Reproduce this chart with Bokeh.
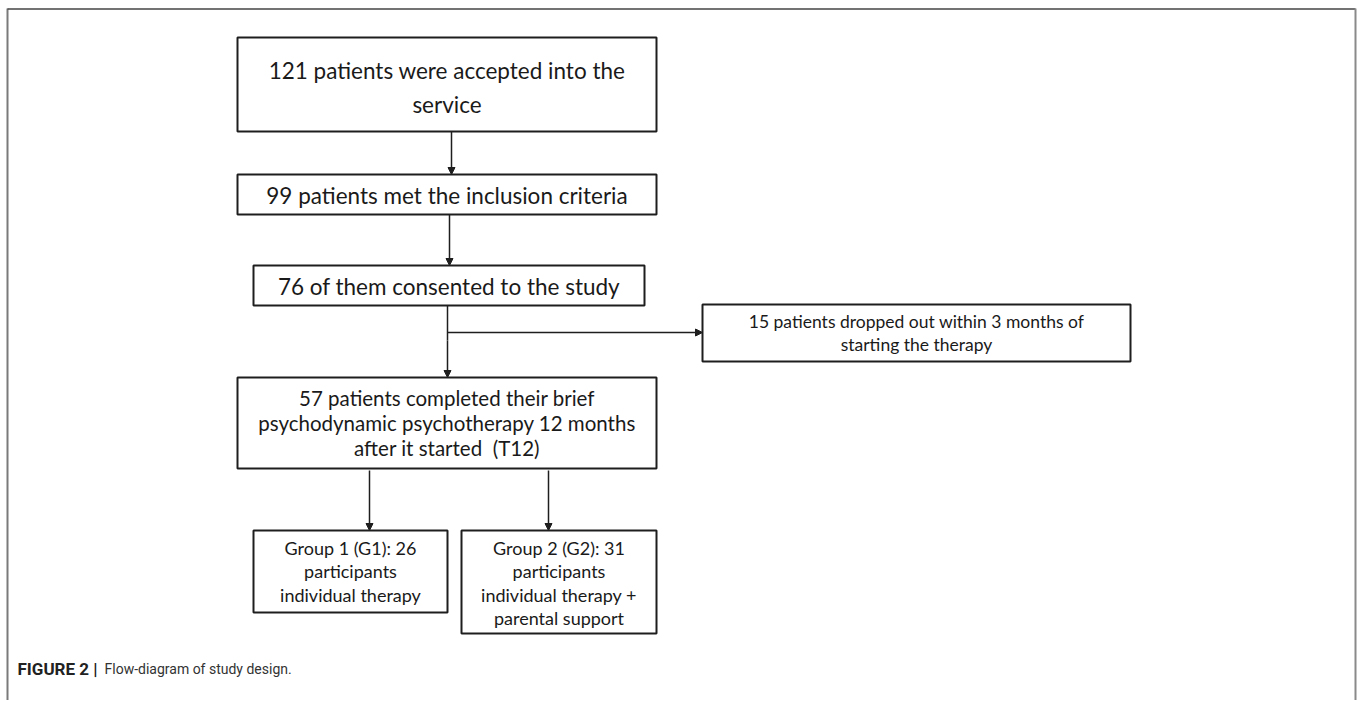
from bokeh.plotting import figure
from bokeh.models import Range1d, Arrow, NormalHead
from bokeh.core.properties import value
from bokeh.embed import file_html
from bokeh.resources import INLINE

# ---- data ----
accepted = 121
eligible = 99
consented = 76
dropped = 15
completed = 57
group1 = 26
group2 = 31

box_lines = [
    [f"{accepted} patients were accepted into the", "service"],
    [f"{eligible} patients met the inclusion criteria"],
    [f"{consented} of them consented to the study"],
    [f"{dropped} patients dropped out within 3 months of", "starting the therapy"],
    [f"{completed} patients completed their brief", "psychodynamic psychotherapy 12 months", "after it started \u00a0(T12)"],
    [f"Group 1 (G1): {group1}", "participants", "individual therapy"],
    [f"Group 2 (G2): {group2}", "participants", "individual therapy +", "parental support"],
]
caption_bold = "FIGURE 2 |"
caption_text = "Flow-diagram of study design."

# ---- layout (page pixel coordinates) ----
W, H = 1358, 700
# left, right, top, bottom, first line y, line step, font size
layout = [
    (237, 656, 37, 131, 70, 34, "22.5px"),
    (237, 656, 174, 214, 195, 0, "22.5px"),
    (253, 644, 265, 305, 286, 0, "22.5px"),
    (702, 1130, 304, 361, 321, 23, "17.5px"),
    (237, 656, 377, 468, 397, 25, "20.5px"),
    (253, 447, 530, 612, 547, 23.5, "18px"),
    (461, 656, 530, 633, 547, 23.5, "18px"),
]

p = figure(width=W, height=H, output_backend="svg", toolbar_location=None,
           x_range=Range1d(0, W), y_range=Range1d(H, 0),
           min_border=0)
p.axis.visible = False
p.grid.visible = False
p.outline_line_color = None
p.background_fill_color = "white"
p.border_fill_color = "white"

# outer frame
p.segment(x0=[7], y0=[8], x1=[7], y1=[H], line_color="#7a7a7a", line_width=2)
p.segment(x0=[7], y0=[8.5], x1=[1355], y1=[8.5], line_color="#444444", line_width=1.5)
p.segment(x0=[1355], y0=[8], x1=[1355], y1=[H], line_color="#8a8a8a", line_width=2)

ink = "#1e1e1e"
txt = "#1a1a1a"
font = value("Lato")

# boxes
p.quad(left=[b[0] for b in layout], right=[b[1] for b in layout],
       top=[b[2] for b in layout], bottom=[b[3] for b in layout],
       fill_color="white", line_color=ink, line_width=2)

# texts
for lines, (l, r, t, b, y0, dy, fs) in zip(box_lines, layout):
    xs = [(l + r) / 2] * len(lines)
    ys = [y0 + i * dy for i in range(len(lines))]
    p.text(x=xs, y=ys, text=lines, text_align="center", text_baseline="middle",
           text_font=font, text_font_size=fs, text_color=txt)

# connectors
def arrow(x0, y0, x1, y1):
    p.add_layout(Arrow(x_start=x0, y_start=y0, x_end=x1, y_end=y1,
                       line_color=ink, line_width=1.5,
                       end=NormalHead(size=7, fill_color=ink, line_color=ink)))

arrow(451, 131, 451, 174)
arrow(449, 214, 449, 265)
p.segment(x0=[447], y0=[305], x1=[447], y1=[340], line_color=ink, line_width=1.5)
arrow(447, 332, 702, 332)
arrow(447, 340, 447, 377)
arrow(369, 470, 369, 530)
arrow(548, 470, 548, 530)

# caption
p.text(x=[17], y=[668], text=[caption_bold], text_font=value("Roboto"),
       text_font_style="bold", text_font_size="17px", text_color="#222222",
       text_baseline="middle")
p.text(x=[104], y=[668], text=[caption_text], text_font=value("Roboto"),
       text_font_size="14px", text_color="#333333", text_baseline="middle")

open("out.html", "w").write(file_html(p, INLINE))
